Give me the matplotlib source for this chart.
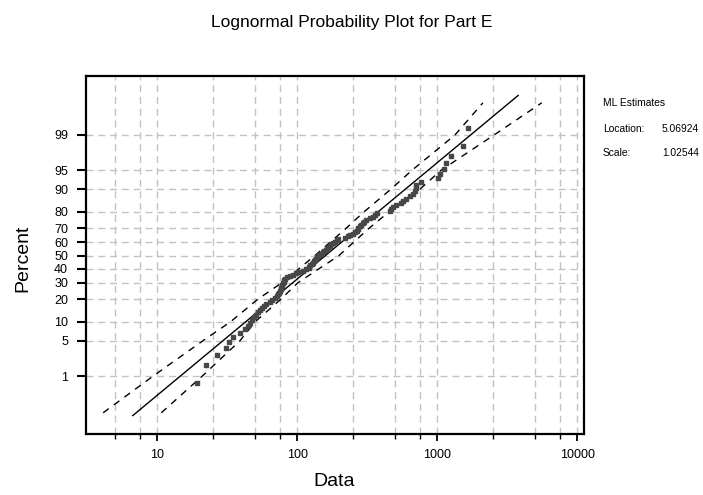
import math
import numpy as np
import matplotlib
matplotlib.use("Agg")
import matplotlib.pyplot as plt
from statistics import NormalDist

plt.rcParams['font.family'] = ['Liberation Sans', 'DejaVu Sans']

# ---------------- data ----------------
data_values = [
    19.1, 22.3, 26.7, 31.0, 32.5, 34.6, 39.0, 42.3, 44.4, 45.9,
    47.5, 49.1, 50.7, 52.4, 54.2, 56.0, 57.8, 59.7, 63.8, 65.9,
    69.3, 71.6, 72.8, 74.0, 75.2, 76.5, 76.5, 77.8, 77.8, 79.1, 80.4, 80.4, 81.7, 84.4,
    88.7, 93.1, 97.9, 101.2, 109.8, 115.4,
    121.3, 122, 124, 127.4, 129, 131, 133.8, 136, 138, 140.6,
    143, 147, 152, 156, 160, 164, 168, 172, 175, 179,
    186, 192, 196, 219, 230, 238, 250, 258, 265, 271,
    272, 282, 287, 295, 302, 309, 331, 345, 359, 372,
    459, 470, 483, 510, 550, 565, 600, 635, 670, 690,
    700, 710, 770, 1012, 1045, 1116, 1153, 1250, 1533, 1664,
]

ml_location = 5.06924
ml_scale = 1.02544
fit_pct = [0.1, 99.9]

band_pct = [0.12, 1, 5, 10, 20, 30, 50, 70, 80, 90, 95, 99, 99.84]
band_upper_x = [4.11, 9.36, 21.2, 33.3, 52.4, 77.8, 133.8, 222.9, 299.5, 466.9, 659, 1337, 2118]
band_lower_x = [10.7, 21.0, 39.0, 49.9, 76.5, 101.2, 198.6, 325, 452, 752, 1062, 2543, 5572]

y_ticks = [1, 5, 10, 20, 30, 40, 50, 60, 70, 80, 90, 95, 99]
x_major = [10, 100, 1000, 10000]
x_minor = [5, 7.5, 25, 50, 75, 250, 500, 750, 2500, 5000, 7500]

title = "Lognormal Probability Plot for Part E"
# -------------------------------------------------------------

nd = NormalDist()


def _inv1(p):
    if not np.isfinite(p):
        return np.nan
    return nd.inv_cdf(min(max(p / 100.0, 1e-12), 1 - 1e-12))


def _cdf1(z):
    if not np.isfinite(z):
        return np.nan
    return 100.0 * 0.5 * (1 + math.erf(z / math.sqrt(2)))


_inv = np.vectorize(_inv1, otypes=[float])
_cdf = np.vectorize(_cdf1, otypes=[float])


def fwd(p):
    return _inv(np.asarray(p, dtype=float))


def inv(z):
    return _cdf(np.asarray(z, dtype=float))


fig = plt.figure(figsize=(7.03, 4.95), dpi=100)
ax = fig.add_axes([86 / 703, 1 - 434 / 495, (584 - 86) / 703, (434 - 76) / 495])
ax.set_xscale('log')
ax.set_yscale('function', functions=(fwd, inv))

# sample points with median-rank plotting positions
x_sorted = np.sort(np.array(data_values))
n = len(x_sorted)
ranks = np.arange(1, n + 1)
pct = (ranks - 0.3) / (n + 0.4) * 100

# fitted line
fit_x = [math.exp(ml_location + ml_scale * nd.inv_cdf(p / 100)) for p in fit_pct]

grid_kw = dict(color='#c2c2c2', lw=1.0, ls=(0, (5, 3.5)), zorder=0)
for xv in x_major + x_minor:
    ax.axvline(xv, **grid_kw)
for yv in y_ticks:
    ax.axhline(yv, **grid_kw)

ax.plot(band_upper_x, band_pct, color='black', lw=1.0, ls=(0, (5, 4.5)), zorder=2)
ax.plot(band_lower_x, band_pct, color='black', lw=1.0, ls=(0, (5, 4.5)), zorder=2)
ax.plot(fit_x, fit_pct, color='black', lw=1.0, zorder=3)
ax.plot(x_sorted, pct, ls='none', marker='s', ms=3.5, color='#474747',
        mec='#474747', zorder=4)

ax.set_xlim(3.1, 11160)
ax.set_ylim(0.0285, 99.9735)

ax.set_yticks(y_ticks)
ax.set_yticklabels([str(v) for v in y_ticks])
ax.yaxis.set_minor_locator(matplotlib.ticker.NullLocator())
ax.set_xticks(x_major)
ax.set_xticklabels([str(v) for v in x_major])
ax.set_xticks(x_minor, minor=True)
ax.xaxis.set_minor_formatter(matplotlib.ticker.NullFormatter())

ax.tick_params(axis='y', which='major', direction='out', length=6.5, width=1.5,
               labelsize=9, pad=6.5, right=False)
ax.tick_params(axis='x', which='major', direction='out', length=5, width=1.3,
               labelsize=9, pad=6, top=False)
ax.tick_params(axis='x', which='minor', direction='out', length=3.5, width=1.0, top=False)
for s in ax.spines.values():
    s.set_linewidth(1.6)

fig.text(352 / 703, 1 - 22 / 495, title, ha='center', va='center', fontsize=12.5)
fig.text(23 / 703, 1 - 258 / 495, 'Percent', rotation=90, ha='center', va='center', fontsize=14)
fig.text(334 / 703, 1 - 481 / 495, 'Data', ha='center', va='center', fontsize=14)

fs = 7.4
fig.text(603 / 703, 1 - 103 / 495, 'ML Estimates', ha='left', va='center', fontsize=fs)
fig.text(603 / 703, 1 - 129 / 495, 'Location:', ha='left', va='center', fontsize=fs)
fig.text(662 / 703, 1 - 129 / 495, f'{ml_location:.5f}', ha='left', va='center', fontsize=fs)
fig.text(603 / 703, 1 - 153 / 495, 'Scale:', ha='left', va='center', fontsize=fs)
fig.text(662 / 703, 1 - 153 / 495, f'{ml_scale:.5f}', ha='left', va='center', fontsize=fs)

fig.savefig('out.png', dpi=100)
